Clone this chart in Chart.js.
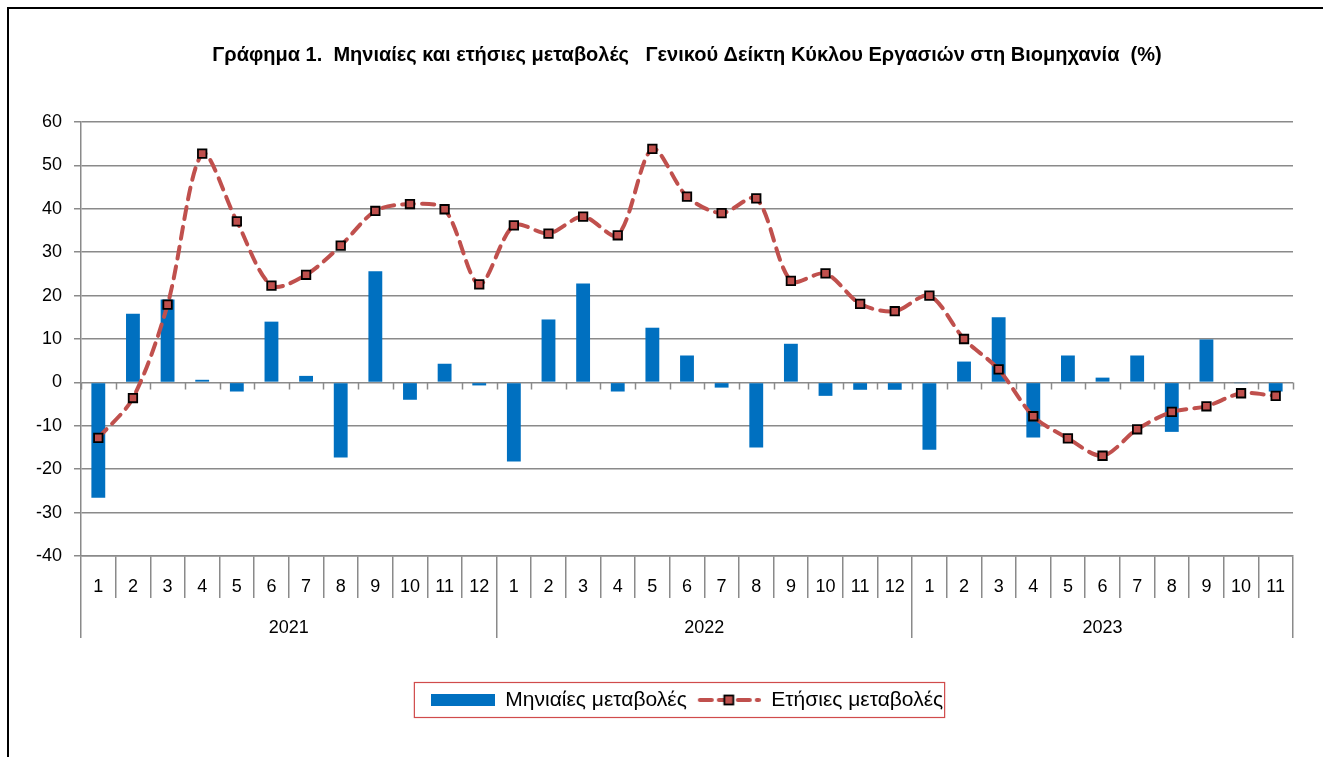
<!DOCTYPE html>
<html lang="el">
<head>
    <meta charset="UTF-8">
    <title>Γράφημα 1</title>
    <style>
        body {
            margin: 0;
            background: #fff;
            overflow: hidden;
        }
        .wrap {
            position: absolute;
            left: 0;
            top: 0;
            width: 1323px;
            height: 757px;
        }
        .frame {
            position: absolute;
            left: 7px;
            top: 7px;
            right: -10px;
            bottom: -10px;
            border-left: 2px solid #000;
            border-top: 2px solid #000;
            pointer-events: none;
        }
    </style>
    <script src="https://cdn.jsdelivr.net/npm/chart.js"></script>
</head>
<body>
    <div class="wrap">
        <div class="frame"></div>
        <canvas id="chart" width="1323" height="757"></canvas>
    </div>

    <script>
        // Δεδομένα
        const years = ['2021', '2022', '2023'];
        const monthsPerYear = [12, 12, 11];
        const months = [
            '1', '2', '3', '4', '5', '6', '7', '8', '9', '10', '11', '12',
            '1', '2', '3', '4', '5', '6', '7', '8', '9', '10', '11', '12',
            '1', '2', '3', '4', '5', '6', '7', '8', '9', '10', '11'
        ];
        const monthlyChange = [
            -26.6, 15.8, 19.1, 0.6, -2.1, 14.0, 1.5, -17.3, 25.6, -4.0, 4.3, -0.7,
            -18.2, 14.5, 22.8, -2.1, 12.6, 6.2, -1.2, -15.0, 8.9, -3.1, -1.7, -1.7,
            -15.5, 4.8, 15.0, -12.7, 6.2, 1.1, 6.2, -11.4, 9.9, -0.1, -2.1
        ];
        const annualChange = [
            -12.8, -3.6, 17.9, 52.7, 37.1, 22.3, 24.8, 31.5, 39.5, 41.1, 39.9, 22.6,
            36.2, 34.3, 38.2, 33.9, 53.8, 42.8, 39.0, 42.4, 23.4, 25.1, 18.1, 16.4,
            20.0, 10.0, 3.0, -7.8, -12.9, -16.9, -10.8, -6.8, -5.5, -2.5, -3.1
        ];
        const yTicks = { min: -40, max: 60, step: 10 };

        const BLUE = '#0070C0';
        const RED = '#C0504D';
        const GRID = '#8a8a8a';
        const FONT = "'Liberation Sans', Arial, sans-serif";

        // όρια ετών στον άξονα (0, 12, 24, 35) και κέντρα
        const yearBounds = [0];
        monthsPerYear.forEach(n => yearBounds.push(yearBounds[yearBounds.length - 1] + n));
        const yearCenters = years.map((y, i) => (yearBounds[i] + yearBounds[i + 1]) / 2);

        // εικονίδια υπομνήματος
        function barSwatch() {
            const c = document.createElement('canvas');
            c.width = 64; c.height = 14;
            const g = c.getContext('2d');
            g.fillStyle = BLUE;
            g.fillRect(0, 1, 64, 12);
            return c;
        }
        function lineSwatch() {
            const c = document.createElement('canvas');
            c.width = 64; c.height = 14;
            const g = c.getContext('2d');
            g.strokeStyle = RED;
            g.lineWidth = 4;
            g.lineCap = 'round';
            g.setLineDash([12, 7]);
            g.beginPath();
            g.moveTo(3, 7);
            g.lineTo(62, 7);
            g.stroke();
            g.setLineDash([]);
            g.fillStyle = RED;
            g.fillRect(27.5, 2.5, 9, 9);
            g.strokeStyle = '#000';
            g.lineWidth = 1.8;
            g.strokeRect(27.5, 2.5, 9, 9);
            return c;
        }

        // μικρές υποδιαιρέσεις πάνω στη γραμμή του μηδενός + πλαίσιο υπομνήματος
        const extrasPlugin = {
            id: 'extras',
            afterDraw(chart) {
                const ctx = chart.ctx;
                const x = chart.scales.x;
                const y = chart.scales.y;
                const y0 = y.getPixelForValue(0);
                const step = x.width / months.length;
                ctx.save();
                ctx.strokeStyle = GRID;
                ctx.lineWidth = 1.5;
                ctx.beginPath();
                for (let i = 0; i <= months.length; i++) {
                    const px = Math.round(x.left + i * step) + 0.5;
                    ctx.moveTo(px, y0);
                    ctx.lineTo(px, y0 + 7);
                }
                ctx.stroke();

                const boxes = chart.legend.legendHitBoxes;
                if (boxes && boxes.length) {
                    const first = boxes[0];
                    const last = boxes[boxes.length - 1];
                    const cy = first.top + first.height / 2;
                    ctx.strokeStyle = '#D04B4B';
                    ctx.lineWidth = 1.2;
                    ctx.strokeRect(first.left - 16.5, cy - 17.5, last.left + last.width - first.left + 18, 35);
                }
                ctx.restore();
            }
        };

        new Chart(document.getElementById('chart'), {
            data: {
                labels: months,
                datasets: [
                    {
                        type: 'line',
                        label: 'Ετήσιες μεταβολές',
                        data: annualChange,
                        order: 0,
                        borderColor: RED,
                        borderWidth: 4,
                        borderDash: [12, 8],
                        borderCapStyle: 'round',
                        tension: 0.3,
                        pointStyle: 'rect',
                        pointRadius: 6,
                        pointBackgroundColor: RED,
                        pointBorderColor: '#000',
                        pointBorderWidth: 1.8,
                        fill: false
                    },
                    {
                        type: 'bar',
                        label: 'Μηνιαίες μεταβολές',
                        data: monthlyChange,
                        order: 1,
                        backgroundColor: BLUE,
                        barPercentage: 0.4,
                        categoryPercentage: 1.0
                    }
                ]
            },
            options: {
                responsive: false,
                animation: false,
                layout: { padding: { left: 0, right: 30, top: 0, bottom: 36.5 } },
                plugins: {
                    tooltip: { enabled: false },
                    title: {
                        display: true,
                        fullSize: false,
                        text: 'Γράφημα 1.  Μηνιαίες και ετήσιες μεταβολές   Γενικού Δείκτη Κύκλου Εργασιών στη Βιομηχανία  (%)',
                        color: '#000',
                        font: { family: FONT, size: 20, weight: 'bold', lineHeight: 1.2 },
                        padding: { top: 43, bottom: 55 }
                    },
                    legend: {
                        position: 'bottom',
                        fullSize: false,
                        labels: {
                            color: '#000',
                            font: { family: FONT, size: 21 },
                            usePointStyle: true,
                            pointStyleWidth: 64,
                            padding: 10,
                            generateLabels() {
                                return [
                                    { text: 'Μηνιαίες μεταβολές', pointStyle: barSwatch(), lineWidth: 0, fillStyle: BLUE, strokeStyle: BLUE, datasetIndex: 1 },
                                    { text: 'Ετήσιες μεταβολές', pointStyle: lineSwatch(), lineWidth: 0, fillStyle: RED, strokeStyle: RED, datasetIndex: 0 }
                                ];
                            }
                        }
                    }
                },
                scales: {
                    y: {
                        min: yTicks.min,
                        max: yTicks.max,
                        afterFit(scale) { scale.width = 81; },
                        ticks: {
                            stepSize: yTicks.step,
                            color: '#000',
                            padding: 12,
                            font: { family: FONT, size: 18 }
                        },
                        grid: { color: GRID, lineWidth: 1.5, tickLength: 7 },
                        border: { color: GRID, width: 1.5 }
                    },
                    x: {
                        type: 'category',
                        offset: true,
                        afterFit(scale) { scale.height = 42; },
                        ticks: {
                            color: '#000',
                            autoSkip: false,
                            maxRotation: 0,
                            minRotation: 0,
                            padding: -21.8,
                            font: { family: FONT, size: 18 }
                        },
                        grid: {
                            offset: true,
                            drawOnChartArea: false,
                            tickLength: 42,
                            color: GRID,
                            lineWidth: 1.5
                        },
                        border: { color: GRID, width: 1.5 }
                    },
                    x2: {
                        type: 'linear',
                        position: 'bottom',
                        min: 0,
                        max: months.length,
                        afterFit(scale) { scale.height = 81.5; },
                        afterBuildTicks(scale) {
                            const vals = yearBounds.concat(yearCenters).sort((a, b) => a - b);
                            scale.ticks = vals.map(v => ({ value: v }));
                        },
                        ticks: {
                            color: '#000',
                            autoSkip: false,
                            maxRotation: 0,
                            padding: -20.8,
                            font: { family: FONT, size: 18 },
                            callback(v) {
                                const i = yearCenters.indexOf(v);
                                return i >= 0 ? years[i] : '';
                            }
                        },
                        grid: {
                            drawOnChartArea: false,
                            tickLength: 40,
                            lineWidth: 1.5,
                            color(ctx) {
                                return ctx.tick && yearBounds.includes(ctx.tick.value) ? GRID : 'rgba(0,0,0,0)';
                            }
                        },
                        border: { display: false }
                    }
                }
            },
            plugins: [extrasPlugin]
        });
    </script>
</body>
</html>
